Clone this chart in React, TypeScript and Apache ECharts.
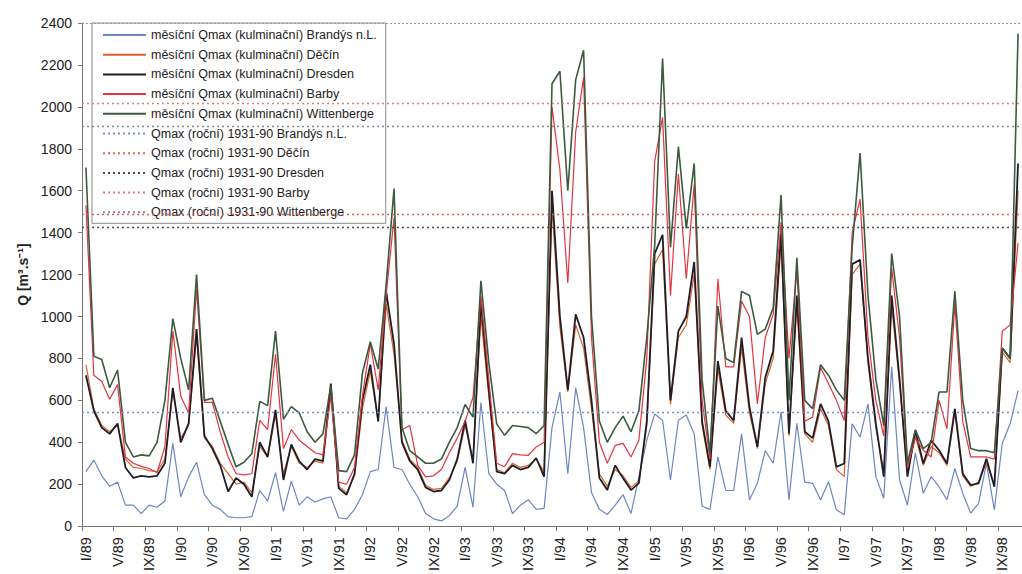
import React, { useEffect, useRef } from 'react';
import * as echarts from 'echarts';

const years = ['89', '90', '91', '92', '93', '94', '95', '96', '97', '98'];
const monthNumerals = ['I', 'II', 'III', 'IV', 'V', 'VI', 'VII', 'VIII', 'IX', 'X', 'XI', 'XII'];
const monthCount = 119;

const brandys = [
  260, 315, 240, 190, 210, 100, 100, 60, 100, 90, 120, 395,
  140, 235, 305, 150, 100, 80, 45, 40, 40, 45, 170, 120,
  255, 70, 215, 100, 140, 115, 130, 140, 40, 35, 80, 150,
  260, 270, 570, 280, 270, 200, 140, 60, 35, 25, 50, 95,
  280, 90, 590, 250, 200, 170, 60, 100, 126, 80, 85, 470,
  640, 250, 660, 470, 160, 80, 55, 100, 150, 60, 235, 410,
  535, 505, 220, 505, 530, 440, 95, 80, 330, 170, 170, 440,
  125, 205, 360, 300, 545, 125, 490, 210, 204, 125, 212, 78,
  54, 488, 425, 583, 236, 133, 760, 220, 101, 350, 157, 236,
  188, 125, 275, 157, 62, 109, 299, 78, 394, 488, 646,
];
const decin = [
  770, 560, 480, 450, 480, 320, 280, 275, 265, 260, 320, 640,
  420, 480, 900, 420, 380, 300, 250, 200, 210, 160, 380, 330,
  530, 250, 380, 300, 280, 310, 300, 650, 190, 160, 240, 560,
  740, 500, 1060, 820, 410, 320, 280, 195, 175, 180, 230, 310,
  480, 320, 1000, 620, 270, 255, 300, 280, 290, 320, 260, 1520,
  950, 640, 960, 850, 560, 250, 190, 270, 240, 185, 215, 480,
  1250, 1320, 580, 900, 960, 1200, 480, 270, 750, 530, 490, 850,
  540, 370, 680, 800, 1350, 430, 1050, 440, 400, 560, 480, 270,
  236, 1200, 1250, 780, 470, 260, 1050, 680, 250, 430, 290, 380,
  350, 290, 540, 240, 190, 210, 300, 200, 830, 780, 1600,
];
const dresden = [
  720, 550, 470, 440, 490, 280, 230, 240, 235, 240, 300, 660,
  400, 490, 940, 430, 370, 290, 165, 230, 200, 140, 400, 330,
  555, 220, 390, 310, 270, 320, 310, 680, 180, 150, 250, 600,
  770, 500, 1120, 870, 400, 310, 270, 185, 165, 170, 220, 320,
  504, 300, 1070, 650, 260, 251, 290, 270, 280, 325, 236, 1600,
  1000, 650, 1010, 900, 600, 230, 172, 290, 228, 172, 205, 500,
  1300, 1390, 600, 930, 1000, 1260, 500, 283, 788, 550, 504, 899,
  567, 378, 709, 836, 1400, 441, 1100, 450, 420, 583, 500, 283,
  299, 1250, 1270, 800, 488, 236, 1100, 700, 236, 457, 299, 409,
  362, 299, 560, 250, 196, 204, 322, 188, 850, 800, 1730,
];
const barby = [
  1530, 720, 690, 605, 675, 330, 300, 285, 275, 255, 380, 930,
  620, 540, 1130, 590, 590, 450, 330, 250, 245, 250, 505, 460,
  820, 370, 460, 410, 380, 350, 340, 620, 210, 200, 280, 620,
  870, 650, 1100, 1470, 460, 480, 290, 235, 240, 270, 350, 420,
  500, 615, 1100, 700, 300, 283, 346, 340, 338, 378, 400, 2000,
  1700, 1160, 1880, 2140, 900, 400, 300, 385, 395, 330, 410, 800,
  1740, 1950, 1100, 1680, 1180, 1630, 600, 320, 1180, 760, 760, 1073,
  1000, 583, 900, 1010, 1450, 800, 1220, 500, 520, 757, 680, 600,
  504, 1400, 1560, 900, 600, 430, 1230, 900, 280, 420, 362, 330,
  600, 464, 1060, 500, 330, 330, 330, 320, 930, 960, 1350,
];
const wittenberge = [
  1710, 810, 795, 660, 745, 400, 330, 340, 335, 400, 600, 990,
  800, 650, 1200, 600, 610, 500, 390, 283, 305, 345, 595, 575,
  930, 510, 570, 540, 450, 400, 440, 670, 265, 260, 340, 730,
  880, 750, 1150, 1610, 470, 360, 330, 300, 300, 320, 400, 470,
  580, 520, 1170, 780, 488, 433, 480, 475, 470, 441, 480, 2110,
  2170, 1600, 2130, 2270, 1000, 500, 400, 470, 525, 450, 550, 900,
  1340, 2230, 1330, 1810, 1420, 1730, 700, 346, 1050, 800, 780, 1120,
  1100, 915, 940, 1040, 1580, 600, 1280, 600, 560, 770, 720, 650,
  600, 1330, 1780, 1100, 700, 480, 1300, 1000, 300, 460, 370, 400,
  640, 640, 1120, 600, 370, 360, 360, 350, 850, 800, 2350,
];

// long-term annual maxima 1931-90
const stations = ['Brandýs n.L.', 'Děčín', 'Dresden', 'Barby', 'Wittenberge'];
const annualQmax = [543, 1486, 1424, 2017, 1908];
const monthlySeries = [brandys, decin, dresden, barby, wittenberge];
const lineColors = ['#6f86c4', '#d9622b', '#1e1e28', '#e3343f', '#3b5a3e'];
const lineWidths = [1.2, 1.2, 1.8, 1.2, 1.6];
const dotColors = ['#7a92c8', '#e06060', '#4a4a55', '#e87a7a', '#8a8a90'];

const yTicks = { min: 0, max: 2400, interval: 200 };

const categories: string[] = [];
years.forEach((y) => monthNumerals.forEach((m) => categories.push(`${m}/${y}`)));
const cats = categories.slice(0, monthCount);

const FONT = 'Liberation Sans, Arial, sans-serif';

export default function App() {
  const ref = useRef<HTMLDivElement>(null);
  useEffect(() => {
    document.body.style.margin = '0';
    const chart = echarts.init(ref.current!, null, { renderer: 'svg' });
    const series: any[] = [];
    stations.forEach((s, k) => {
      series.push({
        name: `měsíční Qmax (kulminační) ${s}`,
        type: 'line',
        data: monthlySeries[k],
        symbol: 'none',
        lineStyle: { color: lineColors[k], width: lineWidths[k] },
        itemStyle: { color: lineColors[k] },
        z: 2 + k * 0.1,
        markLine:
          k === 0
            ? {
                silent: true,
                symbol: ['none', 'none'],
                label: { show: false },
                lineStyle: { color: '#9a9a9a', type: [2, 2], width: 1 },
                data: [{ yAxis: yTicks.max }],
              }
            : undefined,
      });
    });
    stations.forEach((s, k) => {
      series.push({
        name: `Qmax (roční) 1931-90 ${s}`,
        type: 'line',
        data: [],
        symbol: 'none',
        lineStyle: { color: dotColors[k], width: 1.2, type: [2, 3] },
        itemStyle: { color: dotColors[k] },
        markLine: {
          silent: true,
          symbol: ['none', 'none'],
          label: { show: false },
          lineStyle: { color: dotColors[k], type: [2, 3], width: 1.3 },
          data: [{ yAxis: annualQmax[k] }],
        },
      });
    });
    chart.setOption({
      animation: false,
      backgroundColor: '#ffffff',
      textStyle: { fontFamily: FONT },
      grid: { left: 82, right: 0, top: 23, bottom: 44 },
      legend: {
        orient: 'vertical',
        left: 92,
        top: 23,
        selectedMode: false,
        backgroundColor: '#ffffff',
        borderColor: '#8a8a8a',
        borderWidth: 1,
        padding: [5, 9, 4, 10],
        itemWidth: 43,
        itemHeight: 14,
        itemGap: 5.7,
        itemStyle: { opacity: 0 },
        textStyle: { fontSize: 12.5, color: '#222', fontFamily: FONT, lineHeight: 14 },
        data: series.map((s) => s.name),
      },
      xAxis: {
        type: 'category',
        data: cats,
        boundaryGap: true,
        axisLine: { lineStyle: { color: '#777', width: 1 } },
        axisTick: { show: true, interval: 3, length: 5, lineStyle: { color: '#777' } },
        axisLabel: { interval: 3, rotate: 90, fontSize: 14.5, color: '#222', margin: 11, fontFamily: FONT },
        splitLine: { show: false },
      },
      yAxis: {
        type: 'value',
        min: yTicks.min,
        max: yTicks.max,
        interval: yTicks.interval,
        name: 'Q [m³.s⁻¹]',
        nameLocation: 'middle',
        nameGap: 50,
        nameRotate: 90,
        nameTextStyle: { fontSize: 14, fontWeight: 'bold', color: '#222', fontFamily: FONT },
        axisLine: { show: true, lineStyle: { color: '#777' } },
        axisTick: { show: true, length: 4, lineStyle: { color: '#777' } },
        axisLabel: { fontSize: 14, color: '#222', margin: 10, fontFamily: FONT, formatter: (v: number) => String(v) },
        splitLine: { show: false },
      },
      series,
    });
    return () => chart.dispose();
  }, []);
  return <div ref={ref} style={{ width: 1022, height: 574 }} />;
}
